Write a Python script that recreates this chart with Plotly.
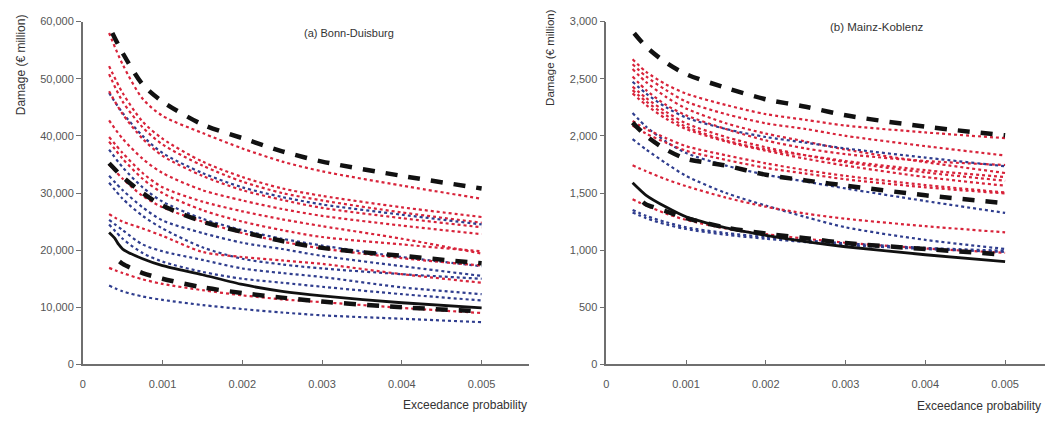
import plotly.graph_objects as go

# ---------------- data ----------------
X = [0.00033, 0.0005, 0.00075, 0.001, 0.0015, 0.002, 0.0025, 0.003, 0.004, 0.005]
XTICKS = [0, 0.001, 0.002, 0.003, 0.004, 0.005]
XTICK_TEXT = ["0", "0.001", "0.002", "0.003", "0.004", "0.005"]

# (a) Bonn-Duisburg, dotted scenario curves (€ million)
bonn_colors = ["r", "r", "r", "b", "r", "r", "r", "r", "b", "r", "b", "b", "r", "b", "b", "r", "b"]
bonn_curves = [
    [58000, 52500, 46500, 43500, 40500, 37800, 35500, 33800, 31300, 29000],
    [52200, 47500, 42500, 39500, 35500, 32800, 30800, 29500, 27500, 25800],
    [50800, 46000, 41500, 38500, 34800, 32000, 30000, 28700, 26600, 24800],
    [47500, 44000, 40000, 37000, 33500, 31000, 29300, 28000, 26200, 24500],
    [47800, 43800, 39500, 36500, 33000, 30500, 28800, 27400, 25600, 24000],
    [42700, 39500, 36000, 33500, 30500, 28700, 27200, 26000, 24300, 22800],
    [39800, 37000, 33500, 31000, 28500, 26800, 25400, 24200, 22000, 19400],
    [39000, 36000, 32500, 30000, 27000, 25000, 23500, 22300, 21000, 19800],
    [37600, 34500, 31000, 28500, 25500, 23500, 22000, 20800, 18800, 17200],
    [35000, 32500, 29500, 27500, 25000, 23000, 21500, 20300, 18600, 17300],
    [33000, 30500, 27500, 25200, 23000, 21300, 20200, 19000, 17200, 15500],
    [31800, 29000, 26000, 23800, 20500, 18500, 17500, 16800, 15800, 15000],
    [26300, 25000, 23800, 22500, 19700, 18800, 18200, 17600, 15800, 14300],
    [25300, 23500, 21000, 19800, 18300, 16800, 16000, 15300, 13500, 12300],
    [24500, 22000, 19500, 18000, 16200, 15000, 14300, 13600, 12300, 11200],
    [16900, 16000, 14900, 14100, 13000, 12100, 11400, 10900, 9900, 9000],
    [13800, 12800, 11900, 11300, 10400, 9700, 9100, 8600, 8000, 7400],
]
bonn_dash_top_x = [0.00037, 0.0005, 0.00075, 0.001, 0.0015, 0.002, 0.0025, 0.003, 0.004, 0.005]
bonn_dash_top = [58000, 54500, 49000, 46000, 42000, 39600, 37300, 35500, 33000, 30800]
bonn_dash_mid_x = X
bonn_dash_mid = [35200, 32800, 30000, 27800, 25000, 23200, 21600, 20400, 19000, 17700]
bonn_dash_low_x = [0.00046, 0.0005, 0.00075, 0.001, 0.0015, 0.002, 0.0025, 0.003, 0.004, 0.005]
bonn_dash_low = [18000, 17600, 16000, 15000, 13500, 12500, 11700, 11000, 10000, 9300]
bonn_solid_x = [0.00033, 0.0004, 0.00045, 0.0005, 0.00075, 0.001, 0.0015, 0.002, 0.0025, 0.003, 0.004, 0.005]
bonn_solid = [23100, 22100, 21000, 20200, 18500, 17300, 15700, 14000, 12800, 12000, 10800, 9900]

# (b) Mainz-Koblenz
mainz_colors = ["r", "r", "r", "r", "b", "r", "r", "r", "b", "r", "r", "b", "r", "r", "b", "b"]
mainz_curves = [
    [2670, 2560, 2450, 2370, 2270, 2190, 2140, 2090, 2030, 1980],
    [2627, 2520, 2400, 2300, 2190, 2110, 2060, 2000, 1910, 1828],
    [2584, 2470, 2340, 2240, 2110, 2020, 1950, 1880, 1770, 1675],
    [2520, 2400, 2270, 2180, 2060, 1960, 1890, 1840, 1780, 1745],
    [2473, 2370, 2250, 2160, 2060, 1990, 1940, 1890, 1810, 1734],
    [2431, 2330, 2210, 2110, 1990, 1900, 1830, 1770, 1680, 1607],
    [2400, 2300, 2180, 2080, 1960, 1880, 1830, 1780, 1700, 1640],
    [2371, 2270, 2150, 2060, 1950, 1870, 1800, 1740, 1640, 1564],
    [2200, 2080, 1950, 1850, 1740, 1660, 1600, 1540, 1430, 1326],
    [2130, 2060, 1980, 1910, 1830, 1760, 1700, 1650, 1570, 1505],
    [2090, 2020, 1940, 1870, 1790, 1720, 1670, 1620, 1550, 1496],
    [1972, 1880, 1760, 1650, 1500, 1390, 1290, 1200, 1090, 1011],
    [1742, 1690, 1620, 1560, 1460, 1380, 1320, 1275, 1210, 1156],
    [1445, 1390, 1320, 1265, 1190, 1140, 1100, 1065, 1015, 977],
    [1352, 1300, 1245, 1200, 1150, 1115, 1085, 1060, 1020, 995],
    [1330, 1280, 1225, 1185, 1135, 1100, 1070, 1045, 1010, 985],
]
mainz_dash_top_x = [0.00035, 0.0005, 0.00075, 0.001, 0.0015, 0.002, 0.0025, 0.003, 0.004, 0.005]
mainz_dash_top = [2898, 2780, 2640, 2540, 2420, 2320, 2255, 2180, 2080, 2005]
mainz_dash_mid_x = X
mainz_dash_mid = [2116, 2000, 1880, 1800, 1740, 1660, 1610, 1565, 1480, 1411]
mainz_dash_low_x = [0.00046, 0.0005, 0.00075, 0.001, 0.0015, 0.002, 0.0025, 0.003, 0.004, 0.005]
mainz_dash_low = [1420, 1400, 1340, 1280, 1198, 1145, 1105, 1062, 1010, 960]
mainz_solid_x = X
mainz_solid = [1590, 1480, 1377, 1292, 1195, 1130, 1075, 1030, 960, 900]

BONN_YTICKS = [0, 10000, 20000, 30000, 40000, 50000, 60000]
MAINZ_YTICKS = [0, 500, 1000, 1500, 2000, 2500, 3000]

# ---------------- styles ----------------
COL = {"r": "#d8233a", "b": "#2f3d8e"}
AX = "#6f6f6f"
TXT = "#555555"
FONT = "Liberation Sans, Arial, sans-serif"
W, H = 1045, 421

fig = go.Figure()


def add_panel(curves, colors, dtop, dtopx, dmid, dmidx, dlow, dlowx, solid, solidx, xa, ya):
    for c, vals in zip(colors, curves):
        fig.add_trace(go.Scatter(x=X, y=vals, mode="lines", xaxis=xa, yaxis=ya,
                                 line=dict(color=COL[c], width=2.2, dash="dot", shape="spline", smoothing=0.8),
                                 hoverinfo="skip", showlegend=False))
    for xs, ys in [(dtopx, dtop), (dmidx, dmid), (dlowx, dlow)]:
        fig.add_trace(go.Scatter(x=xs, y=ys, mode="lines", xaxis=xa, yaxis=ya,
                                 line=dict(color="#111111", width=4.5, dash="12px,11px", shape="spline", smoothing=0.8),
                                 hoverinfo="skip", showlegend=False))
    fig.add_trace(go.Scatter(x=solidx, y=solid, mode="lines", xaxis=xa, yaxis=ya,
                             line=dict(color="#111111", width=2.8, shape="spline", smoothing=0.6),
                             hoverinfo="skip", showlegend=False))


add_panel(bonn_curves, bonn_colors, bonn_dash_top, bonn_dash_top_x, bonn_dash_mid, bonn_dash_mid_x,
          bonn_dash_low, bonn_dash_low_x, bonn_solid, bonn_solid_x, "x", "y")
add_panel(mainz_curves, mainz_colors, mainz_dash_top, mainz_dash_top_x, mainz_dash_mid, mainz_dash_mid_x,
          mainz_dash_low, mainz_dash_low_x, mainz_solid, mainz_solid_x, "x2", "y2")

ydom = [52 / H, 405 / H]
common_x = dict(showline=True, linecolor=AX, linewidth=1.5, ticks="inside", ticklen=5, tickcolor=AX,
                tickwidth=1.2, showgrid=False, zeroline=False, tickvals=XTICKS, ticktext=XTICK_TEXT,
                tickfont=dict(size=11, color=TXT, family=FONT), ticklabelstandoff=9)
common_y = dict(showline=True, linecolor=AX, linewidth=1.5, ticks="outside", ticklen=5, tickcolor=AX,
                tickwidth=1.2, showgrid=False, zeroline=False, domain=ydom,
                tickfont=dict(size=11, color=TXT, family=FONT))

fig.update_layout(
    width=W, height=H,
    margin=dict(l=0, r=0, t=0, b=0),
    paper_bgcolor="white", plot_bgcolor="white",
    xaxis=dict(common_x, domain=[80 / W, 528 / W], range=[0, 0.0056], anchor="y"),
    yaxis=dict(common_y, range=[0, 60000], tickvals=BONN_YTICKS,
               ticktext=[f"{v:,}" for v in BONN_YTICKS], anchor="x"),
    xaxis2=dict(common_x, domain=[605 / W, 1.0], range=[0, 0.0055], anchor="y2"),
    yaxis2=dict(common_y, range=[0, 3000], tickvals=MAINZ_YTICKS,
                ticktext=[f"{v:,}" for v in MAINZ_YTICKS], anchor="x2"),
    showlegend=False,
)

ann = [
    dict(text="Damage (€ million)", x=18 / W, y=1 - 60 / H, textangle=-90, font=dict(size=12)),
    dict(text="Damage (€ million)", x=549 / W, y=1 - 53 / H, textangle=-90, font=dict(size=11.5)),
    dict(text="(a) Bonn-Duisburg", x=347 / W, y=1 - 28 / H, font=dict(size=11)),
    dict(text="(b) Mainz-Koblenz", x=877 / W, y=1 - 22 / H, font=dict(size=11.5)),
    dict(text="Exceedance probability", x=528 / W, y=1 - 411 / H, xanchor="right", font=dict(size=12)),
    dict(text="Exceedance probability", x=1043 / W, y=1 - 412 / H, xanchor="right", font=dict(size=12)),
]
for a in ann:
    a.setdefault("xanchor", "center")
    a["font"] = dict(family=FONT, color="#333333", size=a["font"]["size"])
    fig.add_annotation(xref="paper", yref="paper", showarrow=False, yanchor="middle", **a)

fig.write_html("out.html")
